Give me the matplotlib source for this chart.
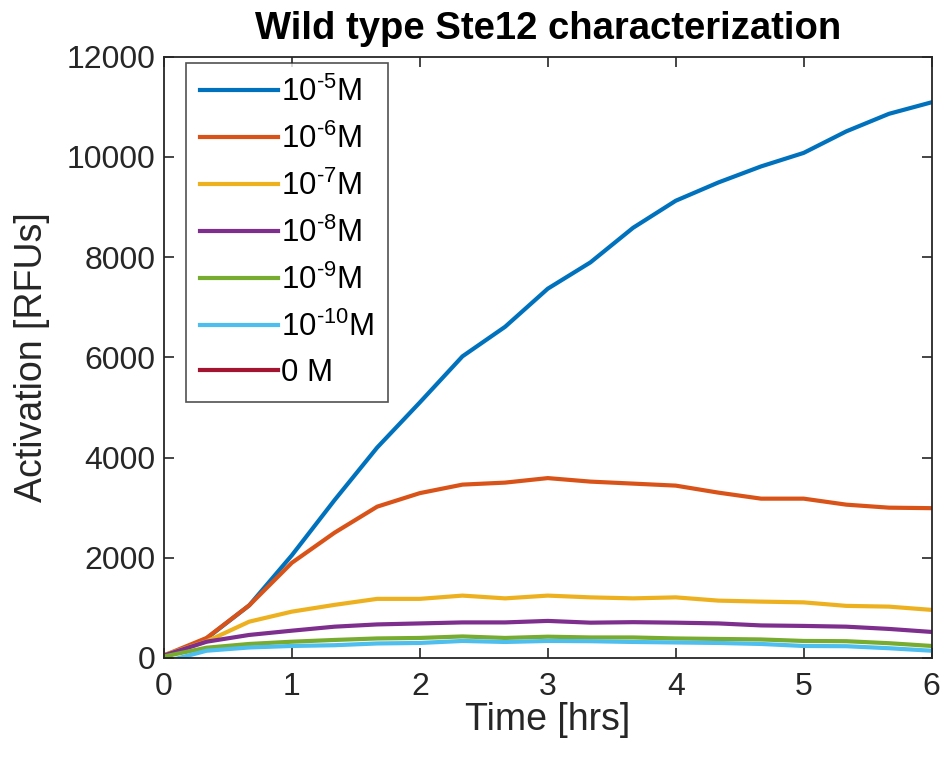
import matplotlib
matplotlib.use("Agg")
import matplotlib.pyplot as plt
import numpy as np

plt.rcParams['font.family'] = ['Liberation Sans', 'DejaVu Sans']
plt.rcParams['mathtext.fontset'] = 'custom'
plt.rcParams['mathtext.rm'] = 'Liberation Sans'
plt.rcParams['mathtext.default'] = 'regular'

# time points every 20 min
time_hrs = np.arange(19) / 3.0

conc_labels = [r'10$^{\text{-}5}$M', r'10$^{\text{-}6}$M', r'10$^{\text{-}7}$M',
               r'10$^{\text{-}8}$M', r'10$^{\text{-}9}$M', r'10$^{\text{-}10}$M', '0 M']

act_1e5 = [0, 390, 1050, 2050, 3150, 4200, 5100, 6020, 6610, 7370,
           7895, 8585, 9125, 9490, 9810, 10080, 10510, 10860, 11090]
act_1e6 = [50, 400, 1050, 1900, 2500, 3020, 3290, 3460, 3500, 3590,
           3520, 3480, 3440, 3300, 3180, 3180, 3060, 3000, 2990]
act_1e7 = [60, 330, 725, 925, 1060, 1180, 1180, 1245, 1190, 1245,
           1210, 1190, 1210, 1145, 1125, 1110, 1040, 1025, 960]
act_1e8 = [50, 325, 460, 545, 625, 670, 690, 710, 710, 740,
           705, 715, 705, 690, 650, 640, 625, 580, 520]
act_1e9 = [30, 205, 280, 325, 360, 390, 400, 430, 400, 425,
           410, 410, 390, 380, 370, 340, 335, 295, 240]
act_1e10 = [-80, 145, 210, 240, 255, 290, 300, 340, 320, 340,
            335, 320, 310, 300, 280, 240, 235, 195, 145]
act_0 = [-120, -90, -100, -110, -95, -105, -100, -90, -110, -100,
         -95, -105, -100, -110, -100, -95, -105, -100, -110]

series = [act_1e5, act_1e6, act_1e7, act_1e8, act_1e9, act_1e10, act_0]
colors = [(0, 0.447, 0.741), (0.85, 0.325, 0.098), (0.929, 0.694, 0.125),
          (0.494, 0.184, 0.556), (0.466, 0.674, 0.188), (0.301, 0.745, 0.933),
          (0.635, 0.078, 0.184)]

fig = plt.figure(figsize=(9.42, 7.66), dpi=100)
ax = fig.add_axes([0.174, 0.141, 0.815, 0.785])

for vals, lab, c in zip(series, conc_labels, colors):
    ax.plot(time_hrs, vals, color=c, lw=3.0, label=lab)

ax.set_xlim(0, 6)
ax.set_ylim(0, 12000)
ax.set_xticks(range(7))
ax.set_yticks(range(0, 12001, 2000))
ax.tick_params(direction='in', top=True, right=True, labelsize=23,
               length=7, width=1.2, colors='#262626', labelcolor='#262626', pad=6)
ax.tick_params(axis='x', pad=10)
for s in ax.spines.values():
    s.set_color('#262626')
    s.set_linewidth(1.3)

ax.set_xlabel('Time [hrs]', fontsize=27, color='#262626', labelpad=0)
ax.set_ylabel('Activation [RFUs]', fontsize=27, color='#262626', labelpad=12)
ax.set_title('Wild type Ste12 characterization', fontsize=27.5,
             fontweight='bold', pad=13)

leg = ax.legend(loc='upper left', fontsize=22.5, frameon=True, fancybox=False,
                edgecolor='#262626', handlelength=2.5, handletextpad=0.08,
                labelspacing=0.5, borderpad=0.45, borderaxespad=0,
                bbox_to_anchor=(0.029, 0.99))
leg.get_frame().set_linewidth(1.2)

fig.savefig('out.png', dpi=100)
